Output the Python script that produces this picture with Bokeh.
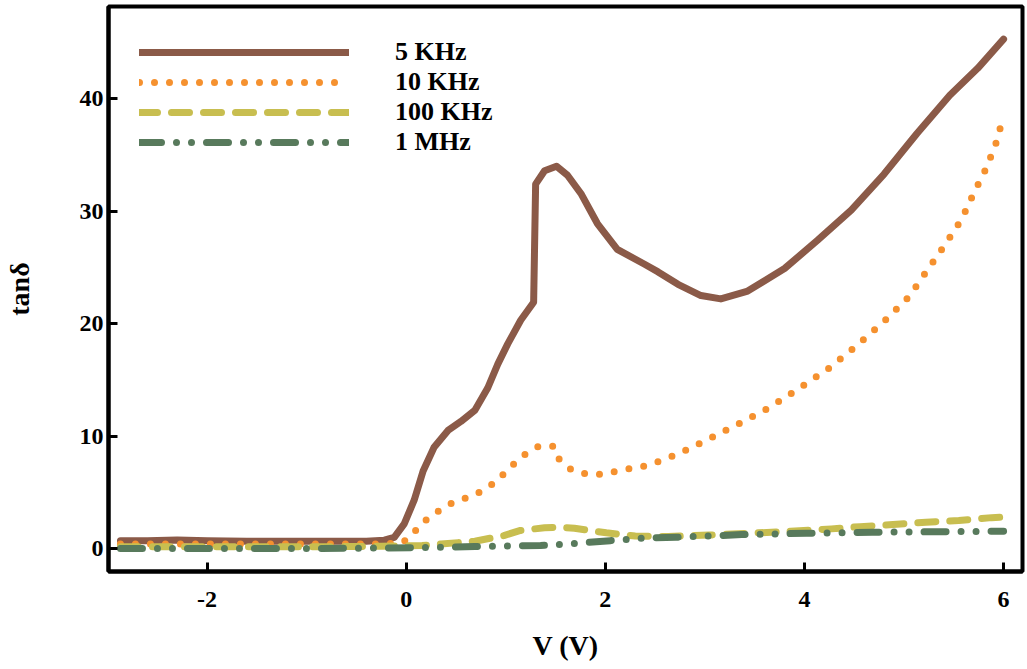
from bokeh.plotting import figure
from bokeh.models import Legend, LegendItem
from bokeh.embed import file_html
from bokeh.resources import INLINE

# ---- data ----
v_5k = [-2.87, -2.6, -2.3, -2.0, -1.6, -1.2, -0.8, -0.4, -0.22, -0.12, -0.02, 0.08, 0.17,
        0.28, 0.42, 0.55, 0.69, 0.82, 0.92, 1.02, 1.15, 1.28, 1.30, 1.39, 1.51, 1.62,
        1.76, 1.92, 2.12, 2.39, 2.53, 2.73, 2.96, 3.16, 3.43, 3.80, 4.13, 4.47, 4.80,
        5.13, 5.46, 5.74, 6.00]
t_5k = [0.7, 0.7, 0.75, 0.7, 0.65, 0.65, 0.65, 0.65, 0.75, 1.0, 2.2, 4.3, 6.9,
        9.0, 10.5, 11.3, 12.3, 14.3, 16.4, 18.2, 20.3, 21.9, 32.4, 33.6, 34.0, 33.2,
        31.5, 28.9, 26.6, 25.3, 24.6, 23.5, 22.5, 22.2, 22.9, 24.9, 27.4, 30.1, 33.3,
        36.9, 40.3, 42.7, 45.3]

v_10k = [-2.87, -1.5, -0.3, -0.05, 0.04, 0.15, 0.30, 0.45, 0.60, 0.76, 0.91, 1.04, 1.18,
         1.33, 1.48, 1.53, 1.66, 1.82, 1.97, 2.12, 2.43, 2.73, 3.03, 3.34, 3.64, 3.94,
         4.24, 4.52, 4.80, 5.05, 5.23, 5.41, 5.58, 5.70, 5.83, 5.93, 6.00]
t_10k = [0.4, 0.4, 0.4, 0.5, 1.0, 2.2, 3.2, 4.0, 4.5, 5.1, 6.0, 7.2, 8.3,
         9.1, 9.1, 8.0, 7.0, 6.6, 6.6, 6.9, 7.4, 8.4, 9.7, 11.1, 12.5, 14.2,
         16.0, 18.0, 20.2, 22.4, 24.7, 27.0, 29.3, 31.6, 33.9, 36.2, 38.5]

v_100k = [-2.87, -2.0, -1.0, -0.25, 0.16, 0.35, 0.69, 0.98, 1.14, 1.39, 1.55, 1.69, 2.01,
          2.30, 2.63, 3.04, 3.45, 3.86, 4.27, 4.56, 4.89, 5.22, 5.55, 5.88, 6.0]
t_100k = [0.15, 0.15, 0.15, 0.2, 0.27, 0.4, 0.65, 1.15, 1.6, 1.85, 1.9, 1.8, 1.4,
          1.12, 1.07, 1.2, 1.36, 1.54, 1.75, 1.95, 2.13, 2.34, 2.5, 2.75, 2.8]

v_1m = [-2.87, -2.0, -1.0, -0.2, 0.24, 0.69, 1.35, 1.72, 2.05, 2.42, 2.71, 3.37, 4.02,
        4.68, 5.42, 6.0]
t_1m = [0.0, 0.0, 0.0, 0.05, 0.1, 0.18, 0.27, 0.47, 0.7, 0.95, 1.0, 1.24, 1.36,
        1.45, 1.5, 1.54]

labels = ["5 KHz", "10 KHz", "100 KHz", "1 MHz"]
x_ticks = [-2, 0, 2, 4, 6]
y_ticks = [0, 10, 20, 30, 40]

FONT = "Liberation Serif"

p = figure(width=1027, height=669, x_range=(-2.99, 6.19), y_range=(-2.04, 48.2),
           output_backend="svg", toolbar_location=None,
           min_border_left=107, min_border_right=5, min_border_top=6, min_border_bottom=98,
           x_axis_label="V (V)", y_axis_label="tanδ")

p.xgrid.visible = False
p.ygrid.visible = False
p.outline_line_color = "black"
p.outline_line_width = 4
p.outline_line_alpha = 1

p.xaxis.ticker = x_ticks
p.yaxis.ticker = y_ticks
p.xaxis.major_label_overrides = {-2: "-2"}
for ax in (p.xaxis[0], p.yaxis[0]):
    ax.axis_line_width = 4
    ax.axis_line_color = "black"
    ax.major_tick_line_width = 3
    ax.major_tick_in = 9
    ax.major_tick_out = 0
    ax.minor_tick_in = 0
    ax.minor_tick_out = 0
    ax.major_label_text_font = FONT
    ax.major_label_text_font_style = "bold"
    ax.major_label_text_font_size = "24px"
    ax.major_label_text_color = "black"
    ax.axis_label_text_font = FONT
    ax.axis_label_text_font_style = "bold"
    ax.axis_label_text_font_size = "28px"
    ax.axis_label_text_color = "black"

p.xaxis.major_label_standoff = 20
p.xaxis.axis_label_standoff = 20
p.yaxis.major_label_standoff = 5
p.yaxis.axis_label_standoff = 42

r1 = p.line(v_5k, t_5k, line_color="#8B5A48", line_width=7, line_cap="round", line_join="round")
r2 = p.line(v_10k, t_10k, line_color="#F5912F", line_width=7, line_cap="round",
            line_join="round", line_dash="0 15")
r3 = p.line(v_100k, t_100k, line_color="#C8BE50", line_width=7, line_cap="round",
            line_join="round", line_dash="18 14")
r4 = p.line(v_1m, t_1m, line_color="#587A5C", line_width=7, line_cap="round",
            line_join="round", line_dash="22 15 0 15 0 15")

legend = Legend(items=[LegendItem(label=labels[0], renderers=[r1]),
                       LegendItem(label=labels[1], renderers=[r2]),
                       LegendItem(label=labels[2], renderers=[r3]),
                       LegendItem(label=labels[3], renderers=[r4])],
                location="top_left", glyph_width=210, glyph_height=20, label_height=20,
                spacing=0, label_standoff=46, margin=21, padding=10,
                border_line_alpha=0, background_fill_alpha=0,
                label_text_font=FONT, label_text_font_style="bold",
                label_text_font_size="26px", label_text_color="black")
p.add_layout(legend)

open("out.html", "w").write(file_html(p, INLINE))
